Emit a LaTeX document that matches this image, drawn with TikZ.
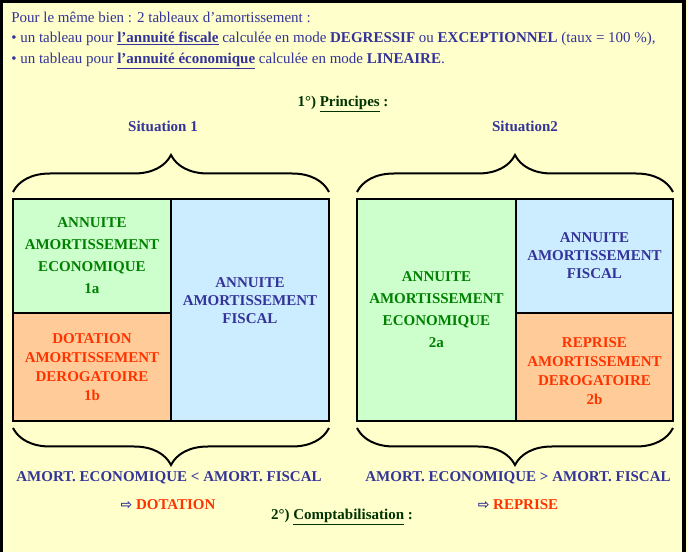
\documentclass[tikz,border=0pt]{standalone}
\usepackage{fontspec}
\setmainfont{Liberation Serif}
\newfontfamily\arrowfont{DejaVu Sans}
\usetikzlibrary{positioning,decorations.pathreplacing}
\definecolor{paper}{HTML}{FFFFCC}
\definecolor{ink}{HTML}{333399}
\definecolor{ecogreen}{HTML}{008000}
\definecolor{ecofill}{HTML}{CCFFCC}
\definecolor{derored}{HTML}{FF3300}
\definecolor{derofill}{HTML}{FFCC99}
\definecolor{fiscfill}{HTML}{CCECFF}
\definecolor{titlegreen}{HTML}{003300}
\begin{document}
\begin{tikzpicture}[x=0.75pt,y=-0.75pt,
  every node/.style={inner sep=0pt,font=\fontsize{11.25}{14}\selectfont},
  cell/.style={draw=black,line width=1.5pt,outer sep=0pt,align=center,anchor=north west,
    font=\fontsize{11.25}{16.5}\selectfont\bfseries},
  eco/.style={cell,fill=ecofill,text=ecogreen},
  dero/.style={cell,fill=derofill,text=derored,font=\fontsize{11.25}{14.25}\selectfont\bfseries},
  fisc/.style={cell,fill=fiscfill,text=ink,font=\fontsize{11.25}{13.5}\selectfont\bfseries},
  brace/.style={decorate,decoration={brace,amplitude=27.75pt},line width=1.5pt},
  header/.style={anchor=west,text=ink},
  caption/.style={text=ink,font=\fontsize{11.25}{14}\selectfont\bfseries},
  result/.style={text=derored,font=\fontsize{11.25}{14}\selectfont\bfseries}]
\useasboundingbox (0,0) rectangle (687,552);
\fill [paper] (0,0) rectangle (687,552);
\draw [black,line width=2.5pt] (1,552) -- (1,1) -- (684,1) -- (684,552);
\node [header] (intro) at (11,17) {Pour le même bien : 2 tableaux d’amortissement :};
\node [header] (fiscline) at (11,39) {• un tableau pour \underline{\textbf{l’annuité fiscale}} calculée en mode \textbf{DEGRESSIF} ou \textbf{EXCEPTIONNEL} (taux = 100 \%),};
\node [header] (ecoline) at (11,61) {• un tableau pour \underline{\textbf{l’annuité économique}} calculée en mode \textbf{LINEAIRE}.};
\node [text=titlegreen,font=\fontsize{11.25}{14}\selectfont\bfseries] (princ) at (343,104) {1°) \underline{Principes} :};
\node [caption] (sit1) at (163,126) {Situation 1};
\node [caption] (sit2) at (525,126) {Situation2};
\node [eco,minimum width=118.5pt,minimum height=85.5pt] (eco1) at (13,199) {ANNUITE\\AMORTISSEMENT\\ECONOMIQUE\\1a};
\node [dero,minimum width=118.5pt,minimum height=81pt,below=0pt of eco1] (dero1) {DOTATION\\AMORTISSEMENT\\DEROGATOIRE\\1b};
\node [fisc,minimum width=118.5pt,minimum height=166.5pt] (fis1) at (eco1.north east) {ANNUITE\\AMORTISSEMENT\\FISCAL\\\mbox{}};
\node [eco,minimum width=119.25pt,minimum height=166.5pt] (eco2) at (357,199) {ANNUITE\\AMORTISSEMENT\\ECONOMIQUE\\2a};
\node [fisc,minimum width=117.75pt,minimum height=85.5pt] (fis2) at (eco2.north east) {ANNUITE\\AMORTISSEMENT\\FISCAL};
\node [dero,minimum width=117.75pt,minimum height=81pt,below=0pt of fis2] (dero2) {\mbox{}\\REPRISE\\AMORTISSEMENT\\DEROGATOIRE\\2b};
\draw [brace] ([yshift=5.25pt]eco1.north west) -- ([yshift=5.25pt]fis1.north east);
\draw [brace] ([yshift=5.25pt]eco2.north west) -- ([yshift=5.25pt]fis2.north east);
\draw [brace] ([yshift=-5.25pt]fis1.south east) -- ([yshift=-5.25pt]dero1.south west);
\draw [brace] ([yshift=-5.25pt]dero2.south east) -- ([yshift=-5.25pt]eco2.south west);
\node [caption] (less) at (169,478) {AMORT. ECONOMIQUE < AMORT. FISCAL};
\node [caption] (more) at (518,478) {AMORT. ECONOMIQUE > AMORT. FISCAL};
\node [result] (dotation) at (168,505) {{\color{ink}\arrowfont\fontsize{10.5}{12}\selectfont ⇨} DOTATION};
\node [result] (reprise) at (518,505) {{\color{ink}\arrowfont\fontsize{10.5}{12}\selectfont ⇨} REPRISE};
\node [text=titlegreen,font=\fontsize{11.25}{14}\selectfont\bfseries] (compta) at (342,517) {2°) \underline{Comptabilisation} :};
\end{tikzpicture}
\end{document}
